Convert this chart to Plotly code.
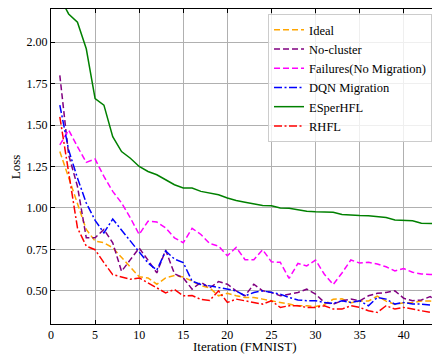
import plotly.graph_objects as go

iterations = list(range(1, 45))

ideal = [1.34, 1.18, 1.02, 0.87, 0.80, 0.79, 0.76, 0.70, 0.64, 0.585, 0.578, 0.54, 0.578, 0.592, 0.584, 0.558, 0.532, 0.518, 0.47,
         0.485, 0.47, 0.46, 0.46, 0.45, 0.44, 0.43, 0.42, 0.41, 0.41, 0.405, 0.418, 0.449, 0.452, 0.428, 0.438, 0.438, 0.468,
         0.438, 0.418, 0.428, 0.428, 0.438, 0.438, 0.432]
no_cluster = [1.80, 1.32, 1.13, 0.82, 0.82, 0.87, 0.79, 0.618, 0.688, 0.758, 0.685, 0.608, 0.746, 0.603, 0.578, 0.51, 0.552, 0.518, 0.556,
              0.54, 0.50, 0.47, 0.54, 0.50, 0.49, 0.47, 0.48, 0.49, 0.51, 0.48, 0.43, 0.42, 0.44, 0.45, 0.44, 0.47, 0.485,
              0.49, 0.50, 0.455, 0.44, 0.445, 0.465, 0.43]
failures = [1.38, 1.47, 1.37, 1.275, 1.295, 1.19, 1.10, 1.03, 0.94, 0.84, 0.92, 0.915, 0.88, 0.82, 0.79, 0.877, 0.84, 0.785, 0.77,
            0.712, 0.762, 0.688, 0.688, 0.748, 0.675, 0.672, 0.575, 0.665, 0.65, 0.686, 0.60, 0.538, 0.608, 0.686, 0.668, 0.672,
            0.662, 0.645, 0.62, 0.634, 0.612, 0.602, 0.598, 0.598]
dqn = [1.62, 1.35, 1.18, 1.03, 0.925, 0.85, 0.933, 0.865, 0.80, 0.732, 0.668, 0.625, 0.74, 0.692, 0.67, 0.558, 0.538, 0.53, 0.52,
       0.51, 0.50, 0.47, 0.49, 0.50, 0.49, 0.48, 0.46, 0.445, 0.44, 0.44, 0.43, 0.425, 0.44, 0.43, 0.44, 0.41, 0.46, 0.45,
       0.42, 0.43, 0.42, 0.42, 0.415, 0.42]
esperhfl = [2.27, 2.17, 2.12, 1.96, 1.66, 1.62, 1.43, 1.34, 1.30, 1.25, 1.22, 1.20, 1.17, 1.14, 1.12, 1.12, 1.10, 1.09, 1.08,
            1.06, 1.045, 1.035, 1.025, 1.015, 1.013, 1.00, 0.998, 0.99, 0.98, 0.977, 0.975, 0.974, 0.96, 0.955, 0.954, 0.953,
            0.948, 0.942, 0.928, 0.924, 0.923, 0.908, 0.905, 0.904]
rhfl = [1.55, 1.20, 0.88, 0.77, 0.748, 0.67, 0.598, 0.584, 0.57, 0.578, 0.548, 0.518, 0.488, 0.508, 0.47, 0.472, 0.448, 0.442, 0.50,
        0.43, 0.45, 0.44, 0.43, 0.42, 0.44, 0.40, 0.41, 0.41, 0.40, 0.40, 0.41, 0.39, 0.39, 0.41, 0.40, 0.38, 0.37, 0.41,
        0.39, 0.40, 0.39, 0.38, 0.37, 0.36]

x_title = "Iteration (FMNIST)"
y_title = "Loss"

series = [
    ("Ideal", ideal, "#FFA500", "6px,3px"),
    ("No-cluster", no_cluster, "#800080", "6px,3px"),
    ("Failures(No Migration)", failures, "#FF00FF", "6px,3px"),
    ("DQN Migration", dqn, "#0000FF", "8px,2.5px,2px,2.5px"),
    ("ESperHFL", esperhfl, "#008000", "solid"),
    ("RHFL", rhfl, "#FF0000", "8px,2.5px,2px,2.5px"),
]

fig = go.Figure()
for name, vals, color, dash in series:
    fig.add_trace(go.Scatter(x=iterations, y=vals, mode="lines", name=name,
                             line=dict(color=color, width=1.5, dash=dash)))

font = "Liberation Serif, Times New Roman, serif"
fig.update_layout(
    width=432, height=347,
    margin=dict(l=43, r=1, t=1, b=31, autoexpand=False),
    paper_bgcolor="white", plot_bgcolor="white",
    font=dict(family=font, size=13, color="black"),
    showlegend=True,
    legend=dict(x=0.982, y=0.984, xanchor="right", yanchor="top",
                bgcolor="rgba(255,255,255,0.8)", bordercolor="#cccccc", borderwidth=1,
                font=dict(family=font, size=12.5), tracegroupgap=0, itemwidth=30),
    annotations=[
        dict(text=x_title, xref="paper", yref="paper", x=0.5, y=-0.07,
             xanchor="center", yanchor="middle", showarrow=False, font=dict(size=13)),
        dict(text=y_title, xref="paper", yref="paper", x=-0.091, y=0.5, textangle=-90,
             xanchor="center", yanchor="middle", showarrow=False, font=dict(size=13)),
    ],
)
fig.update_xaxes(range=[0, 44], tickvals=[0, 5, 10, 15, 20, 25, 30, 35, 40],
                 tickfont=dict(size=12),
                 showgrid=True, gridcolor="#b0b0b0", gridwidth=1,
                 showline=True, linecolor="black", linewidth=1, mirror="ticks",
                 ticks="inside", ticklen=4, tickcolor="black", automargin=False,
                 zeroline=False)
fig.update_yaxes(range=[0.3, 2.2], tickvals=[0.5, 0.75, 1.0, 1.25, 1.5, 1.75, 2.0], tickformat=".2f",
                 tickfont=dict(size=12),
                 showgrid=True, gridcolor="#b0b0b0", gridwidth=1,
                 showline=True, linecolor="black", linewidth=1, mirror="ticks",
                 ticks="inside", ticklen=4, tickcolor="black", automargin=False,
                 zeroline=False)

fig.write_html("out.html")
